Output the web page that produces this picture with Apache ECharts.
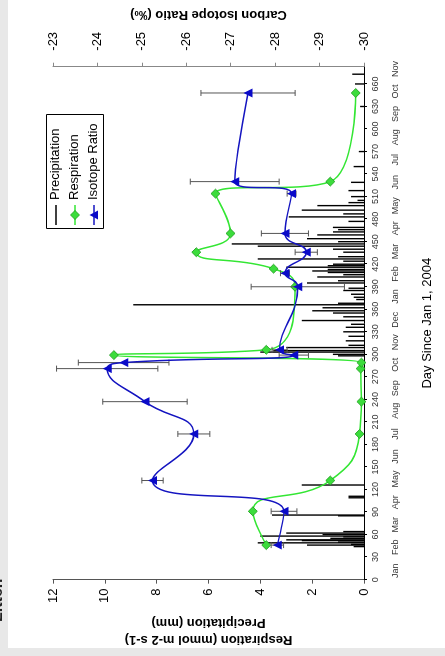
<!DOCTYPE html>
<html><head><meta charset="utf-8">
<script src="https://cdn.jsdelivr.net/npm/echarts@6/dist/echarts.min.js"></script>
<style>
html,body{margin:0;padding:0;width:445px;height:656px;overflow:hidden;background:#e8e8e8;}
#wrap{position:absolute;left:0;top:0;width:656px;height:445px;transform-origin:0 0;transform:translate(0,656px) rotate(-90deg);background:#e8e8e8;overflow:hidden;}
#paper{position:absolute;left:8px;top:8px;width:648px;height:437px;background:#fff;}
#chart{position:absolute;left:0;top:0;width:656px;height:445px;}
</style></head><body>
<div id="wrap"><div id="paper"></div><div id="chart"></div></div>
<script>
// ---- data ----
const dayTicks = [0,30,60,90,120,150,180,210,240,270,300,330,360,390,420,450,480,510,540,570,600,630,660];
const monthDays = [12,43,73,103,134,164,194,225,255,286,316,346,377,407,437,468,498,529,559,589,620,650,680];
const monthNames = ['Jan','Feb','Mar','Apr','May','Jun','Jul','Aug','Sep','Oct','Nov','Dec','Jan','Feb','Mar','Apr','May','Jun','Jul','Aug','Sep','Oct','Nov'];
const respDays = [46,91,132,194,237,281,289,299,306,390,414,436,461,514,530,648];
const respVals = [3.77,4.29,1.30,0.17,0.10,0.13,0.10,9.65,3.77,2.66,3.49,6.47,5.15,5.73,1.30,0.32];
const isoDays = [46,91,132,194,237,281,289,299,306,390,408,436,461,514,530,648];
const isoVals = [-28.05,-28.20,-25.24,-26.17,-25.07,-24.22,-24.59,-28.42,-28.10,-28.51,-28.22,-28.70,-28.22,-28.37,-27.09,-27.39];
const isoErr = [0.14,0.29,0.24,0.36,0.95,1.14,1.02,0.33,0.17,1.05,0.10,0.25,0.53,0.10,1.00,1.06];
const precipDays = [44,46,47,49,50,52,53,55,57,58,60,62,64,85,86,109,111,126,298,300,303,305,309,312,318,324,330,336,340,345,350,355,358,362,366,368,373,376,380,385,388,395,398,403,406,409,411,413,416,418,420,424,427,430,436,440,444,447,450,454,459,463,466,469,477,483,487,492,498,502,505,510,518,529,550,570,630,660,673];
const precipVals = [0.4,2.2,0.5,4.1,1.0,2.4,3.0,1.3,0.8,4.0,1.6,3.0,0.8,1.0,3.55,0.6,0.6,2.4,1.0,1.2,4.0,3.5,3.0,0.6,0.7,0.6,0.8,0.7,0.5,2.4,0.8,1.2,2.0,1.6,8.9,1.0,0.3,0.4,0.5,0.8,0.6,2.2,1.0,1.8,0.8,1.4,2.0,1.4,3.0,1.4,1.2,0.8,4.1,1.0,0.8,1.2,4.1,5.1,1.0,2.2,1.8,1.2,1.0,1.2,0.6,2.9,0.8,2.4,1.8,0.6,0.25,0.5,0.6,0.5,0.4,0.2,0.15,0.35,0.45];

const FONT = 'Liberation Sans, Arial, sans-serif';
const chart = echarts.init(document.getElementById('chart'), null, {renderer:'canvas'});
const precip = precipDays.map((d,i)=>[d, precipVals[i]]);
const resp = respDays.map((d,i)=>[d, respVals[i]]);
const iso = isoDays.map((d,i)=>[d, isoVals[i]]);
const errs = isoDays.map((d,i)=>[d, isoVals[i]-isoErr[i], isoVals[i]+isoErr[i]]);

const GREEN = '#33e633', BLUE = '#1414c0';
const option = {
  animation:false,
  textStyle:{fontFamily:FONT},
  grid:{left:67, right:63, top:53, bottom:81, containLabel:false},
  xAxis:[
    {type:'value', min:0, max:683, position:'bottom',
     axisLine:{show:true, onZero:false, lineStyle:{color:'#000', width:1}},
     axisTick:{show:true, customValues:dayTicks, length:3, lineStyle:{color:'#000'}},
     axisLabel:{customValues:dayTicks, fontSize:9, color:'#333', margin:7, fontFamily:FONT},
     splitLine:{show:false},
     name:'Day Since Jan 1, 2004', nameLocation:'middle', nameGap:57,
     nameTextStyle:{fontSize:13, color:'#000', fontFamily:FONT}},
    {type:'value', min:0, max:683, position:'bottom', offset:20,
     axisLine:{show:false}, axisTick:{show:false}, splitLine:{show:false},
     axisLabel:{customValues:monthDays, fontSize:9, color:'#333', margin:7, fontFamily:FONT,
       formatter:(v)=>{const k=monthDays.indexOf(Math.round(v)); return k>=0?monthNames[k]:'';}}}
  ],
  yAxis:[
    {type:'value', min:0, max:12, interval:2, position:'left',
     axisLine:{show:true, onZero:false, lineStyle:{color:'#555'}},
     axisTick:{show:true, length:4, lineStyle:{color:'#555'}},
     axisLabel:{fontSize:13, color:'#000', margin:9, fontFamily:FONT},
     splitLine:{show:false},
     name:'Respiration (mmol m-2 s-1)\nPrecipitation (mm)', nameLocation:'middle', nameRotate:90, nameGap:24,
     nameTextStyle:{fontSize:13, fontWeight:'bold', color:'#000', lineHeight:17, fontFamily:FONT}},
    {type:'value', min:-30, max:-23, interval:1, position:'right',
     axisLine:{show:true, onZero:false, lineStyle:{color:'#888'}},
     axisTick:{show:true, length:4, lineStyle:{color:'#888'}},
     axisLabel:{fontSize:13, color:'#000', margin:16, fontFamily:FONT},
     splitLine:{show:false},
     name:'Carbon Isotope Ratio (‰)', nameLocation:'middle', nameRotate:90, nameGap:31,
     nameTextStyle:{fontSize:13, fontWeight:'bold', color:'#000', fontFamily:FONT}}
  ],
  series:[
    {name:'Precipitation', type:'bar', xAxisIndex:0, yAxisIndex:0, data:precip, barWidth:1.4,
     itemStyle:{color:'#000'}, z:1, silent:true},
    {name:'Respiration', type:'line', xAxisIndex:0, yAxisIndex:0, data:resp, smooth:0.5,
     symbol:'diamond', symbolSize:9, lineStyle:{color:GREEN, width:1.5},
     itemStyle:{color:'#3cdc3c', borderColor:'#1a9a1a', borderWidth:0.8}, z:3},
    {name:'IsoErr', type:'custom', xAxisIndex:0, yAxisIndex:1, data:errs, z:4,
     renderItem:(params, api)=>{
       const x = api.coord([api.value(0), api.value(1)]);
       const y2 = api.coord([api.value(0), api.value(2)]);
       const c = 3, st = {stroke:'#555', lineWidth:1};
       return {type:'group', children:[
         {type:'line', shape:{x1:x[0], y1:x[1], x2:y2[0], y2:y2[1]}, style:st},
         {type:'line', shape:{x1:x[0]-c, y1:x[1], x2:x[0]+c, y2:x[1]}, style:st},
         {type:'line', shape:{x1:y2[0]-c, y1:y2[1], x2:y2[0]+c, y2:y2[1]}, style:st}
       ]};
     }},
    {name:'Isotope Ratio', type:'line', xAxisIndex:0, yAxisIndex:1, data:iso, smooth:0.5,
     symbol:'triangle', symbolSize:9, lineStyle:{color:BLUE, width:1.5},
     itemStyle:{color:'#0a0ac8'}, z:5}
  ],
  graphic:[
    {type:'text', left:34, top:-10, style:{text:'Litter.', fontSize:16, fontWeight:'bold', fontFamily:FONT, fill:'#222'}, z:2},
    {type:'rect', left:427, top:46, shape:{width:114, height:57}, style:{fill:'#fff', stroke:'#000', lineWidth:1}, z:10},
    {type:'line', shape:{x1:431, y1:56, x2:451, y2:56}, style:{stroke:'#000', lineWidth:1.5}, z:11},
    {type:'text', left:456, top:49, style:{text:'Precipitation', fontSize:13, fontFamily:FONT, fill:'#000'}, z:11},
    {type:'line', shape:{x1:431, y1:75, x2:451, y2:75}, style:{stroke:GREEN, lineWidth:1.5}, z:11},
    {type:'polygon', shape:{points:[[441,70.5],[445.5,75],[441,79.5],[436.5,75]]}, style:{fill:'#3cdc3c', stroke:'#1a9a1a', lineWidth:0.8}, z:12},
    {type:'text', left:456, top:68, style:{text:'Respiration', fontSize:13, fontFamily:FONT, fill:'#000'}, z:11},
    {type:'line', shape:{x1:431, y1:94, x2:451, y2:94}, style:{stroke:BLUE, lineWidth:1.5}, z:11},
    {type:'polygon', shape:{points:[[441,89.5],[445.5,98],[436.5,98]]}, style:{fill:'#0a0ac8'}, z:12},
    {type:'text', left:456, top:87, style:{text:'Isotope Ratio', fontSize:13, fontFamily:FONT, fill:'#000'}, z:11}
  ]
};
chart.setOption(option);
</script>
</body></html>
